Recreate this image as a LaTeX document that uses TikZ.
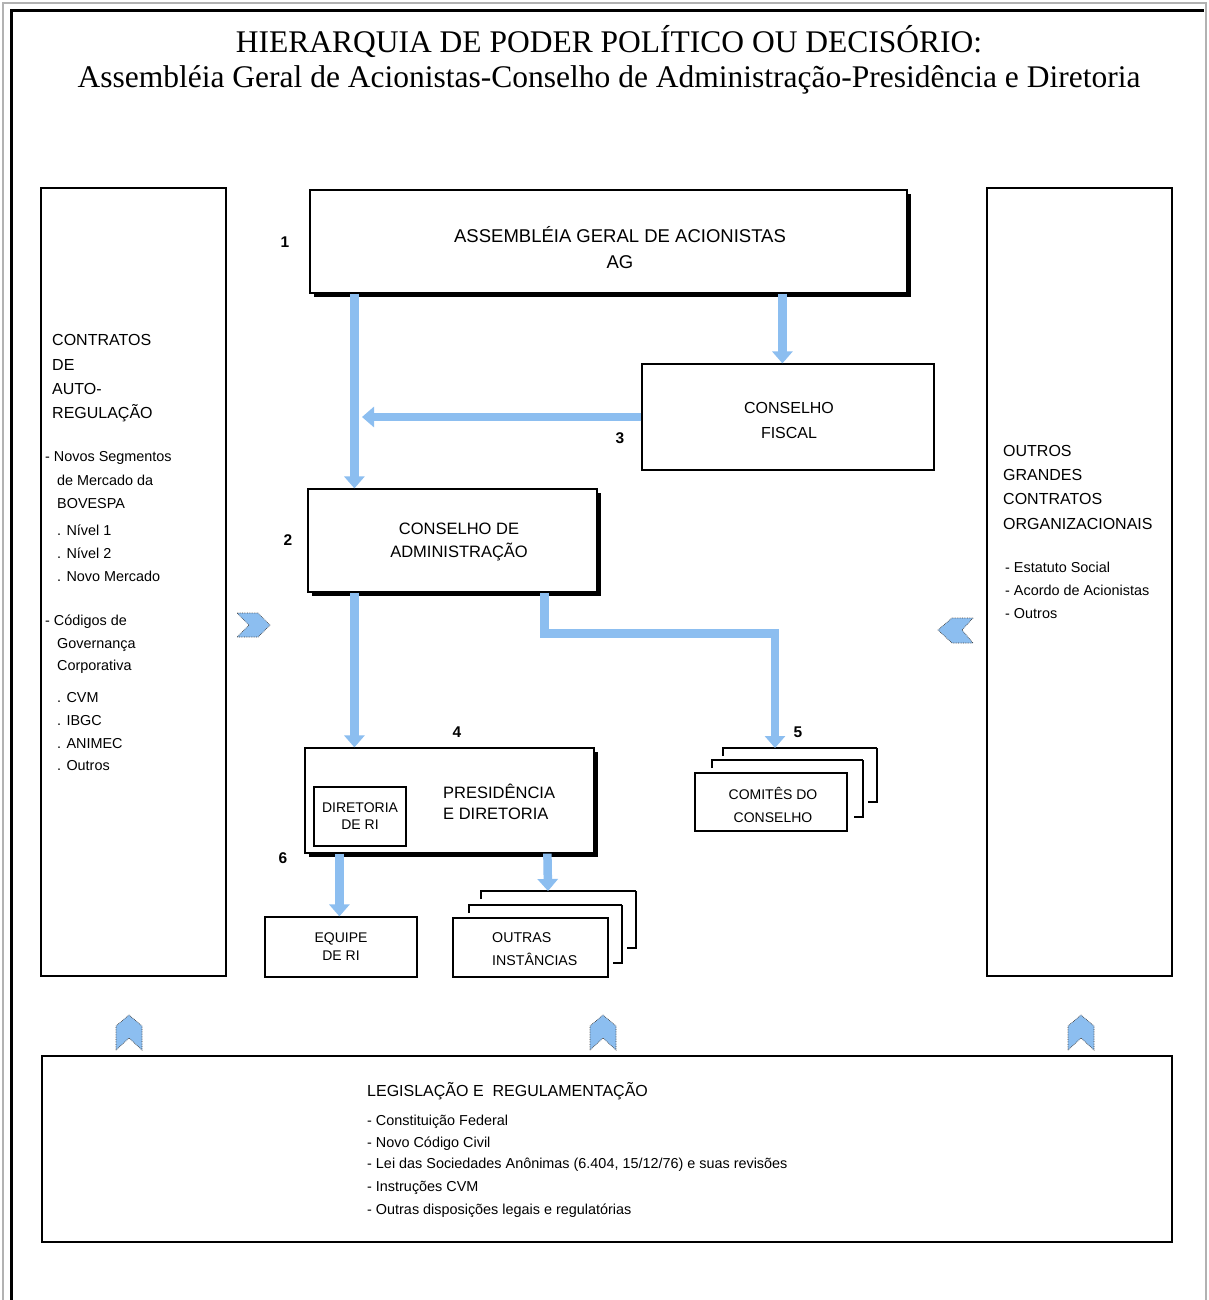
\documentclass[tikz,border=0pt]{standalone}
\usepackage{fontspec}
\setmainfont{Liberation Serif}
\setsansfont{Liberation Sans}
\usetikzlibrary{arrows.meta,calc,shadows}
\definecolor{arrowblue}{RGB}{140,190,240}
\begin{document}
\begin{tikzpicture}[x=1pt,y=-1pt,
  box/.style={draw=black, line width=1.2pt, fill=white, inner sep=0pt, align=center,
    font=\sffamily\fontsize{16}{23}\selectfont},
  shbox/.style={box, drop shadow={shadow xshift=4pt, shadow yshift=-4pt, opacity=1, fill=black}},
  smallbox/.style={box, font=\sffamily\fontsize{14}{22}\selectfont},
  boxtxt/.style={inner sep=0pt, align=center, font=\sffamily\fontsize{16.5}{23}\selectfont},
  flow/.style={draw=arrowblue, line width=8.5pt, -{Triangle[length=12pt,width=20pt]}},
  num/.style={font=\sffamily\bfseries\fontsize{15.5}{15}\selectfont, inner sep=0pt},
  chev/.style={fill=arrowblue, draw=black!75, line width=0.7pt, densely dotted},
  panel/.style={draw=black, line width=1.2pt},
  bigtxt/.style={anchor=base west, inner sep=0pt, font=\sffamily\fontsize{16}{16}\selectfont},
  smtxt/.style={anchor=base west, inner sep=0pt, font=\sffamily\fontsize{14.4}{14}\selectfont},
  stackthin/.style={draw=black, line width=1.2pt},
  stackthick/.style={draw=black, line width=2.4pt},
]
\useasboundingbox (0,0) rectangle (1208,1300);
\fill[white] (0,0) rectangle (1208,1300);
% outer frame
\draw[gray!60, line width=2pt] (3,1300) -- (3,3) -- (1206,3) -- (1206,1300);
\draw[black, line width=3pt] (11,1300) -- (11,11) -- (1204,11);

% title
\node[align=center, inner sep=0pt, font=\rmfamily\fontsize{31.5}{35}\selectfont] (title) at (609,60)
  {HIERARQUIA DE PODER POLÍTICO OU DECISÓRIO:\\Assembléia Geral de Acionistas-Conselho de Administração-Presidência e Diretoria};

% side and bottom panels
\draw[panel] (41,188) rectangle (226,976);
\draw[panel] (987,188) rectangle (1172,976);
\draw[panel] (42,1056) rectangle (1172,1242);

% main boxes
\node[shbox, minimum width=597, minimum height=103] (ag) at (608.5,241.5) {};
\node[boxtxt, font=\sffamily\fontsize{18.5}{26}\selectfont] (agtxt) at (620,248)
  {ASSEMBLÉIA GERAL DE ACIONISTAS\\AG};
\node[box, minimum width=292, minimum height=106] (cf) at (788,417) {};
\node[boxtxt, font=\sffamily\fontsize{16}{25}\selectfont] (cftxt) at (789,420) {CONSELHO\\FISCAL};
\node[shbox, minimum width=289, minimum height=103] (ca) at (452.5,540.5) {};
\node[boxtxt] (catxt) at (459,542) {CONSELHO DE\\ADMINISTRAÇÃO};
\node[shbox, minimum width=289, minimum height=105] (pd) at (449.5,800.5) {};
\node[inner sep=0pt, anchor=west, align=left, font=\sffamily\fontsize{16.5}{21}\selectfont] (pdtxt) at (443,802)
  {PRESIDÊNCIA\\E DIRETORIA};
\node[draw=black, line width=1.1pt, inner sep=0pt, minimum width=92, minimum height=59, align=center,
  font=\sffamily\fontsize{14}{17}\selectfont] (dri) at (360,816.5) {DIRETORIA\\DE RI};

% comites stack
\draw[stackthin] (723,756) |- (877,748);
\coordinate (comtop) at (775,748);
\draw[stackthick] (877,748) -- (877,802) -- (868,802);
\draw[stackthin] (712,768) |- (863,760);
\draw[stackthick] (863,760) -- (863,817) -- (854,817);
\node[smallbox, minimum width=152, minimum height=58] (com) at (771,802) {};
\node[boxtxt, font=\sffamily\fontsize{14}{23}\selectfont] (comtxt) at (773,805) {COMITÊS DO\\CONSELHO};

% equipe
\node[smallbox, font=\sffamily\fontsize{14}{18}\selectfont, minimum width=152, minimum height=60] (eq) at (341,947) {EQUIPE\\DE RI};

% outras stack
\draw[stackthin] (481,899) |- (636,891);
\coordinate (out3top) at (548,891);
\draw[stackthick] (636,891) -- (636,948) -- (627,948);
\draw[stackthin] (469,913) |- (622,905);
\draw[stackthick] (622,905) -- (622,963) -- (613,963);
\node[smallbox, minimum width=155, minimum height=59] (out) at (530.5,947.5) {};
\node[inner sep=0pt, anchor=west, align=left, font=\sffamily\fontsize{14.2}{23}\selectfont] (outtxt) at (492,949)
  {OUTRAS\\INSTÂNCIAS};

% flows
\coordinate (cmeet) at (362,417);
\draw[flow] ([xshift=45pt]ag.south west) -- ([xshift=47pt]ca.north west);
\draw[flow] ([xshift=473pt]ag.south west) -- ([xshift=141pt]cf.north west);
\draw[flow] (cf.west) -- (cmeet);
\draw[flow] ([xshift=47pt]ca.south west) -- ([xshift=50pt]pd.north west);
\draw[flow] ([xshift=237pt]ca.south west) -- ++(0,41) -| (comtop);
\draw[flow] ([xshift=35pt]pd.south west) -- ([xshift=75pt]eq.north west);
\draw[flow] ([xshift=243pt]pd.south west) -- (out3top);

% numbers
\node[num] (n1) at (285,242) {1};
\node[num] (n2) at (288,540) {2};
\node[num] (n3) at (620,438) {3};
\node[num] (n4) at (457,732) {4};
\node[num] (n5) at (798,732) {5};
\node[num] (n6) at (283,858) {6};

% chevrons
\draw[chev] (237,613) -- (258,613) -- (270,625) -- (258,637) -- (237,637) -- (249,625) -- cycle;
\draw[chev] (973,618) -- (952,618) -- (938,630) -- (952,643) -- (973,643) -- (962,630) -- cycle;
\foreach \cx in {129,603,1081}
  \draw[chev] (\cx-13,1050) -- (\cx-13,1026) -- (\cx,1015) -- (\cx+13,1026) -- (\cx+13,1050) -- (\cx,1038) -- cycle;

% left panel text
\foreach \t/\y [count=\i] in {CONTRATOS/345, DE/370, AUTO-/394, REGULAÇÃO/418}
  \node[bigtxt] (lh\i) at (52,\y) {\t};
\foreach \t/\x/\y [count=\i] in {
  {- Novos Segmentos}/45/461, {de Mercado da}/57/485, {BOVESPA}/57/508,
  {. Nível 1}/57/535, {. Nível 2}/57/558, {. Novo Mercado}/57/581,
  {- Códigos de}/45/625, {Governança}/57/648, {Corporativa}/57/670,
  {. CVM}/57/702, {. IBGC}/57/725, {. ANIMEC}/57/748, {. Outros}/57/770}
  \node[smtxt] (ls\i) at (\x,\y) {\t};

% right panel text
\foreach \t/\y [count=\i] in {OUTROS/456, GRANDES/480, CONTRATOS/504, ORGANIZACIONAIS/529}
  \node[bigtxt] (rh\i) at (1003,\y) {\t};
\foreach \t/\y [count=\i] in {{- Estatuto Social}/572, {- Acordo de Acionistas}/595, {- Outros}/618}
  \node[smtxt] (rs\i) at (1005,\y) {\t};

% bottom text
\node[bigtxt] (bh) at (367,1096) {LEGISLAÇÃO E\ \ REGULAMENTAÇÃO};
\foreach \t/\y [count=\i] in {
  {- Constituição Federal}/1125, {- Novo Código Civil}/1147,
  {- Lei das Sociedades Anônimas (6.404, 15/12/76) e suas revisões}/1168,
  {- Instruções CVM}/1191, {- Outras disposições legais e regulatórias}/1214}
  \node[smtxt] (bs\i) at (367,\y) {\t};
\end{tikzpicture}
\end{document}
